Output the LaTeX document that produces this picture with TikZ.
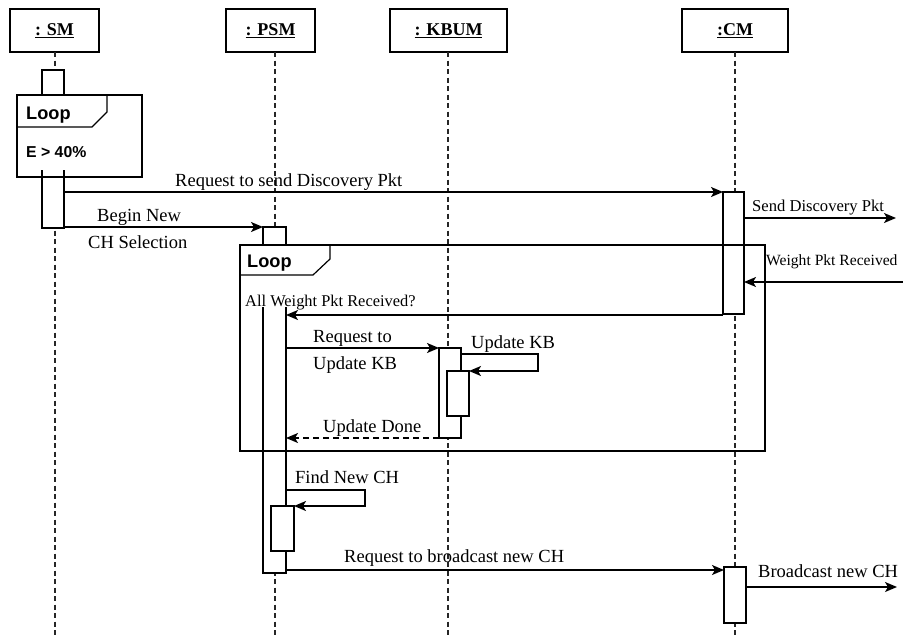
\documentclass[tikz,border=0pt]{standalone}
\usepackage{fontspec}
\setmainfont{Liberation Serif}
\newfontfamily\arialfont{Liberation Sans}
\usetikzlibrary{arrows.meta}
\begin{document}
\begin{tikzpicture}[x=1pt,y=-1pt,
  headbox/.style={draw,line width=2pt,minimum height=43pt,inner sep=0pt,outer sep=0pt,
     font=\bfseries\fontsize{18}{20}\selectfont},
  lifeline/.style={line width=1.5pt,dash pattern=on 5pt off 3.5pt,draw=black!85},
  actbox/.style={draw,line width=2pt,fill=white},
  framebox/.style={draw,line width=1.2pt},
  msgarrow/.style={line width=1.5pt,-{Stealth[length=12pt,width=10pt,inset=3pt]}},
  retarrow/.style={line width=1.5pt,dash pattern=on 6pt off 4pt,-{Stealth[length=12pt,width=10pt,inset=3pt]}},
  msg/.style={inner sep=0pt,anchor=base west,font=\fontsize{18.5}{20}\selectfont},
  smallmsg/.style={inner sep=0pt,anchor=base west,font=\fontsize{16.6}{18}\selectfont},
  guard/.style={inner sep=0pt,anchor=base west,font=\fontsize{16.4}{18}\selectfont},
  looplbl/.style={inner sep=0pt,anchor=base west,font=\arialfont\bfseries\fontsize{18.2}{20}\selectfont},
  condlbl/.style={inner sep=0pt,anchor=base west,font=\arialfont\bfseries\fontsize{15.8}{18}\selectfont}]
\useasboundingbox (0,0) rectangle (903,635);
\fill[white] (0,0) rectangle (903,635);

% heads
\node[headbox,minimum width=89pt] (sm) at (54.5,30.5) {\underline{: SM}};
\node[headbox,minimum width=89pt] (psm) at (270.5,30.5) {\underline{: PSM}};
\node[headbox,minimum width=117pt] (kb) at (448.5,30.5) {\underline{: KBUM}};
\node[headbox,minimum width=106pt] (cm) at (735,30.5) {\underline{:CM}};

% lifeline coordinates
\coordinate (smT) at (55,52);  \coordinate (smB) at (55,635);
\coordinate (psmT) at (275,52); \coordinate (psmB) at (275,635);
\coordinate (kbT) at (448,52);  \coordinate (kbB) at (448,635);
\coordinate (cmT) at (735,52);  \coordinate (cmB) at (735,635);
\draw[lifeline] (smT) -- (smB);
\draw[lifeline] (psmT) -- (psmB);
\draw[lifeline] (kbT) -- (kbB);
\draw[lifeline] (cmT) -- (cmB);

% activations
\draw[actbox] (42,70) rectangle (64,228);
\draw[actbox] (263,227) rectangle (286,573);
\draw[actbox] (439,348) rectangle (461,438);
\draw[actbox] (447,371) rectangle (469,416);
\draw[actbox] (723,192) rectangle (744,314);
\draw[actbox] (271,506) rectangle (294,551);
\draw[actbox] (724,567) rectangle (746,623);

% outer loop frame (SM)
\draw[framebox,fill=white] (17,95) rectangle (142,177);
\draw[framebox] (17,127) -- (92,127) -- (107,112) -- (107,95);
\draw[line width=2pt] (42,170) -- (42,228) -- (64,228) -- (64,170);
\node[looplbl] (loop1) at (26,119) {Loop};
\node[condlbl] (cond1) at (26,157) {E > 40\%};

% inner loop frame
\fill[white] (262,246) rectangle (287,307);
\draw[framebox] (240,245) rectangle (765,451);
\draw[framebox] (240,275) -- (313,275) -- (330,259) -- (330,245);
\node[looplbl] (loop2) at (247,267) {Loop};
\node[guard] (cond2) at (245,306) {All Weight Pkt Received?};

% message endpoints
\coordinate (m1s) at (64,192);  \coordinate (m1e) at (723,192);
\coordinate (m2s) at (744,218); \coordinate (m2e) at (896,218);
\coordinate (m3s) at (64,227);  \coordinate (m3e) at (263,227);
\coordinate (m4s) at (903,282); \coordinate (m4e) at (744,282);
\coordinate (m5s) at (723,315); \coordinate (m5e) at (286,315);
\coordinate (m6s) at (286,348); \coordinate (m6e) at (439,348);
\coordinate (m7s) at (461,354); \coordinate (m7a) at (538,354); \coordinate (m7b) at (538,371); \coordinate (m7e) at (469,371);
\coordinate (m8s) at (439,438); \coordinate (m8e) at (286,438);
\coordinate (m9s) at (286,490); \coordinate (m9a) at (365,490); \coordinate (m9b) at (365,506); \coordinate (m9e) at (294,506);
\coordinate (m10s) at (286,570); \coordinate (m10e) at (724,570);
\coordinate (m11s) at (746,587); \coordinate (m11e) at (897,587);

\draw[msgarrow] (m1s) -- (m1e);
\draw[msgarrow] (m2s) -- (m2e);
\draw[msgarrow] (m3s) -- (m3e);
\draw[msgarrow] (m4s) -- (m4e);
\draw[msgarrow] (m5s) -- (m5e);
\draw[msgarrow] (m6s) -- (m6e);
\draw[msgarrow] (m7s) -- (m7a) -- (m7b) -- (m7e);
\draw[retarrow] (m8s) -- (m8e);
\draw[msgarrow] (m9s) -- (m9a) -- (m9b) -- (m9e);
\draw[msgarrow] (m10s) -- (m10e);
\draw[msgarrow] (m11s) -- (m11e);

% labels
\node[msg] (l1) at (175,186) {Request to send Discovery Pkt};
\node[smallmsg] (l2) at (752,211) {Send Discovery Pkt};
\node[msg] (l3a) at (97,221) {Begin New};
\node[msg] (l3b) at (88,248) {CH Selection};
\node[smallmsg,font=\fontsize{15.6}{18}\selectfont] (l4) at (766,265) {Weight Pkt Received};
\node[msg] (l6a) at (313,342) {Request to};
\node[msg] (l6b) at (313,369) {Update KB};
\node[msg] (l7) at (471,348) {Update KB};
\node[msg] (l8) at (323,432) {Update Done};
\node[msg] (l9) at (295,483) {Find New CH};
\node[msg] (l10) at (344,562) {Request to broadcast new CH};
\node[msg] (l11) at (758,577) {Broadcast new CH};
\end{tikzpicture}
\end{document}
